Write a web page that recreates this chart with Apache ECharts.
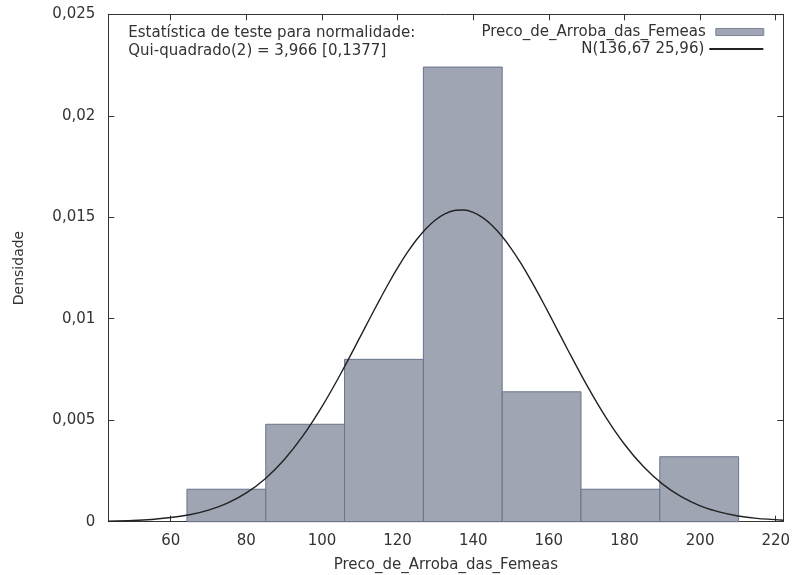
<!DOCTYPE html>
<html>
<head>
<meta charset="utf-8">
<script src="https://cdn.jsdelivr.net/npm/echarts@6/dist/echarts.min.js"></script>
<style>
html,body{margin:0;padding:0;background:#fff;}
#chart{width:793px;height:575px;}
</style>
</head>
<body>
<div id="chart"></div>
<script>
// Histogram bins (edges) and densities
var binStarts = [64.3, 85.14, 105.98, 126.82, 147.66, 168.5, 189.34];
var binEnds   = [85.14, 105.98, 126.82, 147.66, 168.5, 189.34, 210.18];
var densities = [0.0016, 0.0048, 0.0080, 0.0224, 0.0064, 0.0016, 0.0032];

// Fitted normal curve
var curveX = [43.5, 50, 55, 60, 65, 70, 75, 80, 85, 90, 95, 100, 105, 110, 112.5, 115, 117.5, 120, 122.5, 125, 127.5, 130, 132.5, 135, 137.5, 140, 142.5, 145, 147.5, 150, 152.5, 155, 157.5, 160, 162.5, 165, 170, 175, 180, 185, 190, 195, 200, 205, 210, 215, 222];
var curveY = [0.000025, 0.000058, 0.00011, 0.000205, 0.00034, 0.000568, 0.000915, 0.001419, 0.00212, 0.003054, 0.004237, 0.005666, 0.007301, 0.009066, 0.009963, 0.010846, 0.0117, 0.012504, 0.01324, 0.013891, 0.014437, 0.014868, 0.01517, 0.015335, 0.015359, 0.015241, 0.014984, 0.014596, 0.014087, 0.013469, 0.012759, 0.011977, 0.011138, 0.010262, 0.009368, 0.008472, 0.00674, 0.005166, 0.003816, 0.002716, 0.001863, 0.001231, 0.000784, 0.000481, 0.000284, 0.000162, 0.000069];

var xTicks = [60, 80, 100, 120, 140, 160, 180, 200, 220];
var yTicks = [0, 0.005, 0.01, 0.015, 0.02, 0.025];

var histName = 'Preco_de_Arroba_das_Femeas';
var curveName = 'N(136,67 25,96)';
var statText = 'Estatística de teste para normalidade:\nQui-quadrado(2) = 3,966 [0,1377]';

var FONT = 'DejaVu Sans';
var TXT = '#333333';
var AX = '#333333';

var histData = binStarts.map(function (s, i) { return [s, binEnds[i], densities[i]]; });
var curveData = curveX.map(function (x, i) { return [x, curveY[i]]; });

function fmtY(v) {
  if (v === 0) return '0';
  return String(+v.toFixed(3)).replace('.', ',');
}

var chart = echarts.init(document.getElementById('chart'), null, {renderer: 'canvas'});
var option = {
  backgroundColor: '#ffffff',
  animation: false,
  grid: {left: 108.3, right: 9.7, top: 14.3, bottom: 53.3, containLabel: false, outerBoundsMode: 'none'},
  xAxis: [{
    type: 'value', min: 43.5, max: 222, position: 'bottom',
    name: histName, nameLocation: 'middle', nameGap: 36,
    nameTextStyle: {fontFamily: FONT, fontSize: 15, color: TXT},
    splitLine: {show: false},
    axisLine: {show: true, onZero: false, lineStyle: {color: AX, width: 1}},
    axisTick: {show: true, inside: true, length: 6, customValues: xTicks, lineStyle: {color: AX}},
    axisLabel: {show: true, customValues: xTicks, margin: 12, fontFamily: FONT, fontSize: 15, color: TXT}
  }, {
    type: 'value', min: 43.5, max: 222, position: 'top',
    splitLine: {show: false},
    axisLine: {show: true, onZero: false, lineStyle: {color: AX, width: 1}},
    axisTick: {show: true, inside: true, length: 6, customValues: xTicks, lineStyle: {color: AX}},
    axisLabel: {show: false}
  }],
  yAxis: [{
    type: 'value', min: 0, max: 0.025, interval: 0.005, position: 'left',
    name: 'Densidade', nameLocation: 'middle', nameGap: 82,
    nameTextStyle: {fontFamily: FONT, fontSize: 14, color: TXT},
    splitLine: {show: false},
    axisLine: {show: true, onZero: false, lineStyle: {color: AX, width: 1}},
    axisTick: {show: true, inside: true, length: 6, lineStyle: {color: AX}},
    axisLabel: {show: true, margin: 13, fontFamily: FONT, fontSize: 15, color: TXT, formatter: fmtY}
  }, {
    type: 'value', min: 0, max: 0.025, interval: 0.005, position: 'right',
    splitLine: {show: false},
    axisLine: {show: true, onZero: false, lineStyle: {color: AX, width: 1}},
    axisTick: {show: true, inside: true, length: 6, lineStyle: {color: AX}},
    axisLabel: {show: false}
  }],
  legend: [{
    data: [{name: histName, icon: 'rect', itemStyle: {borderColor: '#7a879c', borderWidth: 1}}],
    right: 28.7, top: 24.5, padding: 0,
    align: 'right', itemWidth: 48, itemHeight: 7,
    textStyle: {fontFamily: FONT, fontSize: 15, color: TXT, padding: [0, 5, 0, 0]},
    selectedMode: false
  }, {
    data: [{name: curveName, itemStyle: {color: 'transparent', borderWidth: 0}}],
    right: 28.7, top: 41.5, padding: 0,
    align: 'right', itemWidth: 54, itemHeight: 7,
    textStyle: {fontFamily: FONT, fontSize: 15, color: TXT},
    selectedMode: false
  }],
  graphic: [{
    type: 'text', left: 128.3, top: 24,
    style: {text: statText, font: '15px "DejaVu Sans"', fill: TXT, lineHeight: 18}
  }],
  series: [{
    name: histName,
    type: 'custom',
    xAxisIndex: 0, yAxisIndex: 0,
    encode: {x: [0, 1], y: 2},
    itemStyle: {color: '#a0a5b4', borderColor: '#66748c', borderWidth: 1},
    data: histData,
    z: 2,
    renderItem: function (params, api) {
      var p0 = api.coord([api.value(0), api.value(2)]);
      var p1 = api.coord([api.value(1), 0]);
      return {
        type: 'rect',
        shape: {x: p0[0], y: p0[1], width: p1[0] - p0[0], height: p1[1] - p0[1]},
        style: {fill: '#a0a5b4', stroke: '#66748c', lineWidth: 1}
      };
    }
  }, {
    name: curveName,
    type: 'line',
    xAxisIndex: 0, yAxisIndex: 0,
    data: curveData,
    smooth: 0.3,
    symbol: 'none',
    showSymbol: false,
    lineStyle: {color: '#222222', width: 1.4},
    itemStyle: {color: '#222222'},
    z: 3
  }]
};
chart.setOption(option);
</script>
</body>
</html>
